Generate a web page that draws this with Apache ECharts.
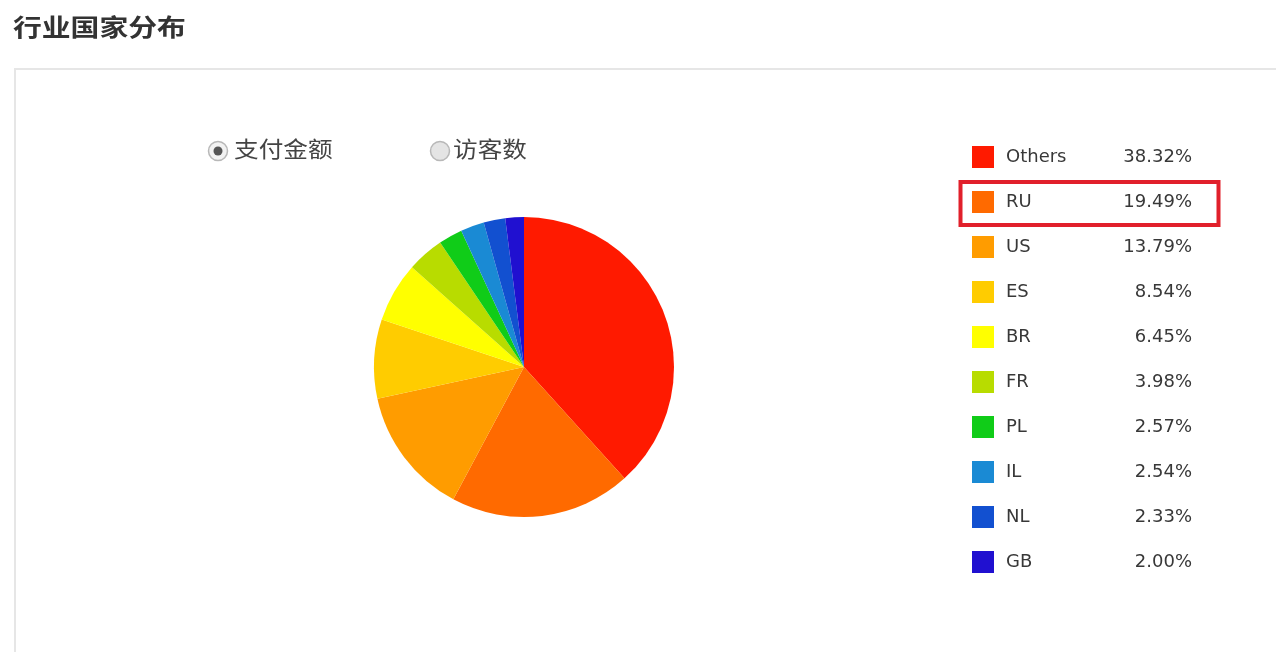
<!DOCTYPE html>
<html>
<head>
<meta charset="utf-8">
<script src="https://cdn.jsdelivr.net/npm/echarts@6/dist/echarts.min.js"></script>
<style>
html,body{margin:0;padding:0;background:#fff;}
#chart{width:1276px;height:652px;}
</style>
</head>
<body>
<div id="chart"></div>
<script>
const countries = ['Others', 'RU', 'US', 'ES', 'BR', 'FR', 'PL', 'IL', 'NL', 'GB'];
const shares = [38.32, 19.49, 13.79, 8.54, 6.45, 3.98, 2.57, 2.54, 2.33, 2.00];
const palette = ['#ff1a00', '#ff6a00', '#ff9c00', '#ffcc00', '#ffff00', '#b8dc00', '#10cc18', '#1a8ad4', '#1250d0', '#2010d0'];
const titleText = '行业国家分布';
const radioLabels = ['支付金额', '访客数'];

const chart = echarts.init(document.getElementById('chart'));
const cjk = '"Noto Sans CJK SC", sans-serif';
const latin = '"DejaVu Sans", Verdana, sans-serif';

chart.setOption({
  animation: false,
  color: palette,
  legend: {
    orient: 'vertical',
    left: 972,
    top: 146,
    padding: 0,
    itemWidth: 22,
    itemHeight: 22,
    itemGap: 23,
    icon: 'rect',
    selectedMode: false,
    data: countries,
    formatter: function (name) {
      const i = countries.indexOf(name);
      return '{n|' + name + '}{v|' + shares[i].toFixed(2) + '%}';
    },
    textStyle: {
      rich: {
        n: { width: 82, padding: [0, 0, 0, 7], fontSize: 18, fontFamily: latin, color: '#383838', lineHeight: 22 },
        v: { width: 104, align: 'right', fontSize: 18, fontFamily: latin, color: '#383838', lineHeight: 22 }
      }
    }
  },
  series: [{
    type: 'pie',
    center: [524, 367],
    radius: 150,
    startAngle: 90,
    clockwise: true,
    label: { show: false },
    labelLine: { show: false },
    emphasis: { disabled: true },
    itemStyle: { borderWidth: 0 },
    data: countries.map((c, i) => ({ name: c, value: shares[i] }))
  }],
  graphic: [
    {
      type: 'rect', silent: true, z: -1,
      shape: { x: 15, y: 69, width: 1300, height: 620 },
      style: { fill: '#fff', stroke: '#e6e6e6', lineWidth: 2 }
    },
    {
      type: 'text', x: 13, y: 15, scaleX: 1.2, originX: 0,
      style: { text: titleText, font: 'bold 24px ' + cjk, fill: '#333', verticalAlign: 'top' }
    },
    {
      type: 'circle', shape: { cx: 218, cy: 151, r: 9.5 },
      style: { fill: '#f2f2f2', stroke: '#b8b8b8', lineWidth: 1.5 }
    },
    {
      type: 'circle', shape: { cx: 218, cy: 151, r: 4.5 },
      style: { fill: '#555' }
    },
    {
      type: 'text', x: 234, y: 138, scaleX: 1.12, originX: 0,
      style: { text: radioLabels[0], font: '22px ' + cjk, fill: '#444', verticalAlign: 'top' }
    },
    {
      type: 'circle', shape: { cx: 440, cy: 151, r: 9.5 },
      style: { fill: '#e4e4e4', stroke: '#b8b8b8', lineWidth: 1.5 }
    },
    {
      type: 'text', x: 453, y: 138, scaleX: 1.12, originX: 0,
      style: { text: radioLabels[1], font: '22px ' + cjk, fill: '#444', verticalAlign: 'top' }
    },
    {
      type: 'rect', silent: true,
      shape: { x: 960.5, y: 182, width: 258, height: 43 },
      style: { fill: 'none', stroke: '#e1202b', lineWidth: 4 }
    }
  ]
});
</script>
</body>
</html>
